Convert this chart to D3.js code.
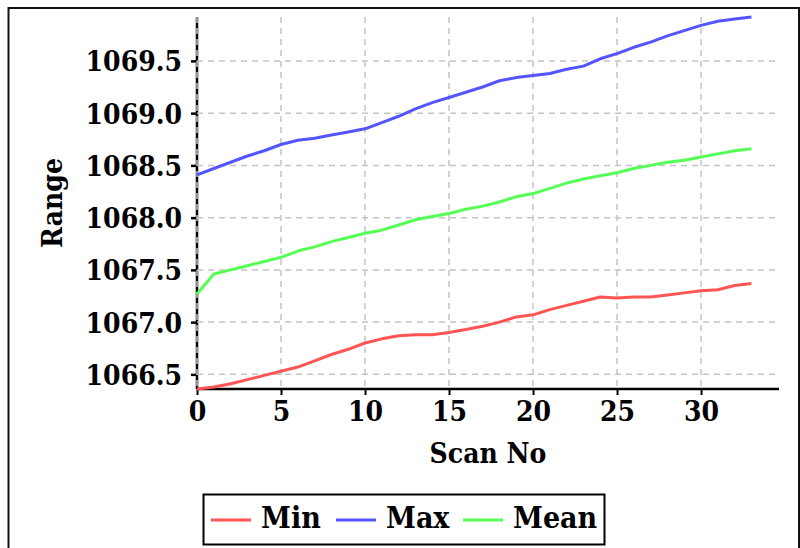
<!DOCTYPE html>
<html><head><meta charset="utf-8">
<script src="https://cdn.jsdelivr.net/npm/d3@7"></script>
<style>
html,body{margin:0;padding:0;background:#fff;}
svg{display:block;}
text{font-family:"DejaVu Serif Condensed","DejaVu Serif",serif;font-weight:bold;fill:#000;}
</style></head>
<body><svg id="c" width="800" height="548"></svg>
<script>
const scanNo = d3.range(0, 34);
const minVals = [1066.36,1066.38,1066.41,1066.45,1066.49,1066.53,1066.57,1066.63,1066.69,1066.74,
  1066.80,1066.84,1066.87,1066.88,1066.88,1066.90,1066.93,1066.96,1067.00,1067.05,
  1067.07,1067.12,1067.16,1067.20,1067.24,1067.23,1067.24,1067.24,1067.26,1067.28,
  1067.30,1067.31,1067.35,1067.37];
const maxVals = [1068.41,1068.47,1068.53,1068.59,1068.64,1068.70,1068.74,1068.76,1068.79,1068.82,
  1068.85,1068.91,1068.97,1069.04,1069.10,1069.15,1069.20,1069.25,1069.31,1069.34,
  1069.36,1069.38,1069.42,1069.45,1069.52,1069.57,1069.63,1069.68,1069.74,1069.79,
  1069.84,1069.88,1069.90,1069.92];
const meanVals = [1067.27,1067.46,1067.50,1067.54,1067.58,1067.62,1067.68,1067.72,1067.77,1067.81,
  1067.85,1067.88,1067.93,1067.98,1068.01,1068.04,1068.08,1068.11,1068.15,1068.20,
  1068.23,1068.28,1068.33,1068.37,1068.40,1068.43,1068.47,1068.50,1068.53,1068.55,
  1068.58,1068.61,1068.64,1068.66];
const xTicks = [0,5,10,15,20,25,30];
const yTicks = [1066.5,1067.0,1067.5,1068.0,1068.5,1069.0,1069.5];
const seriesNames = ["Min","Max","Mean"];
const seriesColors = ["#ff5555","#5555ff","#55ff55"];
const seriesData = [minVals, maxVals, meanVals];

const svg = d3.select("#c");
svg.append("rect").attr("width",800).attr("height",548).attr("fill","#fff");
svg.append("rect").attr("x",8.5).attr("y",8).attr("width",790.5).attr("height",600)
  .attr("fill","none").attr("stroke","#111").attr("stroke-width",2);

const L=197, R=779, T=17, B=389;
const x = d3.scaleLinear().domain([0,34.64]).range([L,R]);
const y = d3.scaleLinear().domain([d3.min(minVals), d3.max(maxVals)]).range([B,T]);

// axes lines
const g = svg.append("g");
// y axis
const ya = g.append("g").attr("transform",`translate(${L},0)`)
  .call(d3.axisLeft(y).tickValues(yTicks).tickFormat(d3.format(".1f")).tickSize(6).tickPadding(9));
ya.select(".domain").attr("d",`M0,${T}V${B}`).attr("stroke","#000").attr("stroke-width",2.5);
ya.selectAll(".tick line").attr("stroke","#000").attr("stroke-width",2.5);
ya.selectAll(".tick text").attr("font-size",28).attr("font-family",null).attr("dy","0.36em");
// x axis
const xa = g.append("g").attr("transform",`translate(0,${B})`)
  .call(d3.axisBottom(x).tickValues(xTicks).tickFormat(d3.format("d")).tickSize(6).tickPadding(6));
xa.select(".domain").attr("d",`M${L},0H${R}`).attr("stroke","#000").attr("stroke-width",2.5);
xa.selectAll(".tick line").attr("stroke","#000").attr("stroke-width",2);
xa.selectAll(".tick text").attr("font-size",28).attr("font-family",null).attr("dy","0.72em");

// grid
const grid = svg.append("g").attr("stroke","#c4c4c4").attr("stroke-width",1.5).attr("stroke-dasharray","6,5");
grid.selectAll("line.h").data(yTicks).join("line").attr("class","h")
  .attr("x1",L).attr("x2",R).attr("y1",d=>y(d)).attr("y2",d=>y(d));
grid.selectAll("line.v").data(xTicks).join("line").attr("class","v")
  .attr("x1",d=>x(d)).attr("x2",d=>x(d)).attr("y1",T).attr("y2",B);

// lines
const line = d3.line().x((d,i)=>x(scanNo[i])).y(d=>y(d));
seriesData.forEach((vals,k)=>{
  svg.append("path").datum(vals).attr("d",line).attr("fill","none")
    .attr("stroke",seriesColors[k]).attr("stroke-width",3).attr("stroke-linejoin","round");
});

// titles
svg.append("text").attr("x",488).attr("y",463).attr("text-anchor","middle").attr("font-size",28).text("Scan No");
svg.append("text").attr("transform","translate(62,203) rotate(-90)").attr("text-anchor","middle").attr("font-size",28).text("Range");

// legend
svg.append("rect").attr("x",203.5).attr("y",494.5).attr("width",401).attr("height",50)
  .attr("fill","#fff").attr("stroke","#000").attr("stroke-width",2);
const legX = [211, 336, 463];
seriesNames.forEach((n,k)=>{
  svg.append("line").attr("x1",legX[k]).attr("x2",legX[k]+40).attr("y1",520).attr("y2",520)
    .attr("stroke",seriesColors[k]).attr("stroke-width",3);
  svg.append("text").attr("x",legX[k]+50).attr("y",528).attr("font-size",30).text(n);
});
</script></body></html>
